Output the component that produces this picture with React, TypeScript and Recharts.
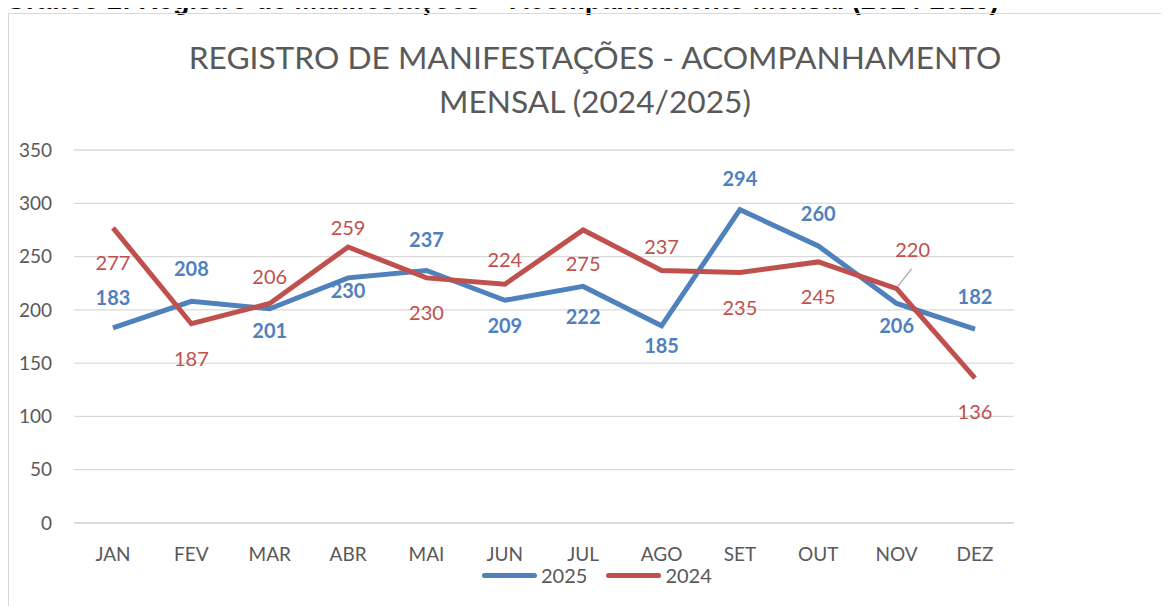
import React from "react";
import { LineChart, Line, XAxis, YAxis, CartesianGrid, LabelList } from "recharts";

const months = ["JAN", "FEV", "MAR", "ABR", "MAI", "JUN", "JUL", "AGO", "SET", "OUT", "NOV", "DEZ"];
const values2025 = [183, 208, 201, 230, 237, 209, 222, 185, 294, 260, 206, 182];
const values2024 = [277, 187, 206, 259, 230, 224, 275, 237, 235, 245, 220, 136];
const yTicks = [0, 50, 100, 150, 200, 250, 300, 350];

// label vertical offsets (px) relative to the point, as placed in the original
const dy2025 = [-31, -33, 21, 12, -31, 25, 30, 19, -32, -33, 22, -33];
const dy2024 = [34, 34, -27, -20, 34, -25, 33, -24, 34, 34, -40, 33];

const data = months.map((m, i) => ({ month: m, y2025: values2025[i], y2024: values2024[i] }));

const BLUE = "#4f81bd";
const RED = "#c0504d";
const FONT = "Lato, 'Open Sans', sans-serif";

const makeLabel = (offsets: number[], color: string, bold: boolean) => (props: any) => {
  const { x, y, value, index } = props;
  const dy = offsets[index];
  const leader = index === 10 && color === RED;
  return (
    <g>
      {leader && <line x1={x + 1} y1={y - 2} x2={x + 15} y2={y - 20} stroke="#a6a6a6" strokeWidth={1.2} />}
      <text
        x={leader ? x + 16 : x}
        y={y + dy}
        textAnchor="middle"
        dominantBaseline="central"
        fill={color}
        fontSize={20}
        fontWeight={bold ? 700 : 400}
        fontFamily={FONT}
      >
        {value}
      </text>
    </g>
  );
};

export default function App() {
  return (
    <div style={{ position: "relative", width: 1161, height: 598, fontFamily: FONT }}>
      <div
        style={{
          position: "absolute",
          top: -23,
          left: -3,
          whiteSpace: "nowrap",
          fontFamily: "'Liberation Sans', Arial, sans-serif",
          fontWeight: 700,
          fontSize: 27,
          lineHeight: "30px",
        }}
      >
        Gráfico 2: Registro de Manifestações – Acompanhamento Mensal (2024-2025)
      </div>
      <div
        style={{
          position: "absolute",
          left: 0,
          top: 5,
          width: 1175,
          height: 610,
          border: "1px solid #d9d9d9",
          background: "transparent",
        }}
      />
      <div
        style={{
          position: "absolute",
          left: 0,
          width: 1174,
          top: 27,
          textAlign: "center",
          color: "#595959",
          fontSize: 31.7,
          lineHeight: "44px",
        }}
      >
        REGISTRO DE MANIFESTAÇÕES - ACOMPANHAMENTO
        <br />
        MENSAL (2024/2025)
      </div>
      <div style={{ position: "absolute", left: 0, top: 0 }}>
        <LineChart width={1100} height={590} data={data} margin={{ top: 142, right: 94, bottom: 45, left: 6 }}>
          <CartesianGrid vertical={false} stroke="#d9d9d9" strokeWidth={1.3} />
          <XAxis
            dataKey="month"
            height={30}
            padding={{ left: 39, right: 39 }}
            axisLine={{ stroke: "#d9d9d9", strokeWidth: 1.3 }}
            tickLine={false}
            tickMargin={19}
            tick={{ fill: "#595959", fontSize: 19, fontFamily: FONT }}
          />
          <YAxis
            width={60}
            domain={[0, 350]}
            ticks={yTicks}
            axisLine={false}
            tickLine={false}
            tickMargin={16}
            tick={{ fill: "#595959", fontSize: 19, fontFamily: FONT }}
          />
          <Line
            dataKey="y2025"
            stroke={BLUE}
            strokeWidth={5}
            dot={false}
            isAnimationActive={false}
          >
            <LabelList dataKey="y2025" content={makeLabel(dy2025, BLUE, true)} />
          </Line>
          <Line
            dataKey="y2024"
            stroke={RED}
            strokeWidth={5}
            dot={false}
            isAnimationActive={false}
          >
            <LabelList dataKey="y2024" content={makeLabel(dy2024, RED, false)} />
          </Line>
        </LineChart>
      </div>
      <div
        style={{
          position: "absolute",
          top: 555,
          left: 474,
          display: "flex",
          alignItems: "center",
          color: "#595959",
          fontSize: 20,
          lineHeight: "24px",
        }}
      >
        <span style={{ display: "inline-block", width: 55, height: 5, borderRadius: 3, background: BLUE }} />
        <span style={{ marginLeft: 4, marginRight: 19 }}>2025</span>
        <span style={{ display: "inline-block", width: 55, height: 5, borderRadius: 3, background: RED }} />
        <span style={{ marginLeft: 4 }}>2024</span>
      </div>
    </div>
  );
}
